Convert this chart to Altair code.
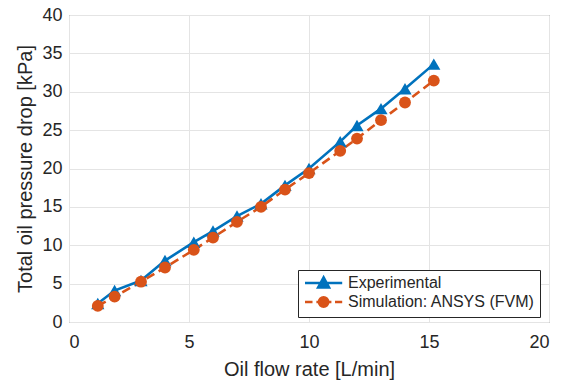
import altair as alt
import pandas as pd

# ---- data ----
flow = [1.2, 1.9, 3.0, 4.0, 5.2, 6.0, 7.0, 8.0, 9.0, 10.0, 11.3, 12.0, 13.0, 14.0, 15.2]
exp_dp = [2.4, 4.1, 5.4, 8.0, 10.4, 11.85, 13.8, 15.4, 17.8, 20.0, 23.5, 25.6, 27.8, 30.4, 33.6]
sim_dp = [2.1, 3.3, 5.25, 7.1, 9.4, 11.0, 13.05, 15.0, 17.25, 19.4, 22.3, 23.9, 26.3, 28.6, 31.45]
series = ["Experimental", "Simulation: ANSYS (FVM)"]
colors = ["#0072BD", "#D95319"]
x_ticks = [0, 5, 10, 15, 20]
y_ticks = [0, 5, 10, 15, 20, 25, 30, 35, 40]

rows = []
for s, vals in zip(series, [exp_dp, sim_dp]):
    for xv, yv in zip(flow, vals):
        rows.append({"flow": xv, "dp": yv, "series": s})
df = pd.DataFrame(rows)

FONT = "Liberation Sans"
TXT = "#262626"

x_enc = alt.X("flow:Q", scale=alt.Scale(domain=[0, 20], nice=False),
              axis=alt.Axis(values=x_ticks, title="Oil flow rate [L/min]",
                            labelPadding=11, titlePadding=8))
y_enc = alt.Y("dp:Q", scale=alt.Scale(domain=[0, 40], nice=False),
              axis=alt.Axis(values=y_ticks, title="Total oil pressure drop [kPa]",
                            labelPadding=7, titlePadding=6))

color_scale = alt.Scale(domain=series, range=colors)

base = alt.Chart(df)
exp_data = base.transform_filter(alt.datum.series == series[0])
sim_data = base.transform_filter(alt.datum.series == series[1])

exp_line = exp_data.mark_line(strokeWidth=2.6, color=colors[0]).encode(x=x_enc, y=y_enc)
sim_line = sim_data.mark_line(strokeWidth=2.6, color=colors[1],
                              strokeDash=[9, 5]).encode(x=x_enc, y=y_enc)

tri = exp_data.mark_point(
    filled=True, size=175, opacity=1, shape="triangle-up", color=colors[0]
).encode(x=x_enc, y=y_enc)

circ = sim_data.mark_point(
    filled=True, size=140, opacity=1, shape="circle", color=colors[1]
).encode(x=x_enc, y=y_enc)

# legend symbols: line (solid / dashed) with a marker in the middle
leg_exp = "M-1,0L5.2,0M2.1,-0.95L3.017,0.75L1.183,0.75Z"
leg_sim = ("M-1,0L0.25,0M0.9,0L3.4,0M4.0,0L5.2,0"
           "M1.317,0A0.783,0.783 0 1,1 2.883,0A0.783,0.783 0 1,1 1.317,0Z")

legend_layer = base.mark_point(filled=True, opacity=0).encode(
    x=x_enc, y=y_enc,
    fill=alt.Fill("series:N", scale=color_scale, legend=alt.Legend(title=None)),
    stroke=alt.Stroke("series:N", scale=color_scale, legend=alt.Legend(title=None)),
    shape=alt.Shape("series:N",
                    scale=alt.Scale(domain=series, range=[leg_exp, leg_sim]),
                    legend=alt.Legend(title=None)),
)

chart = alt.layer(exp_line, sim_line, tri, circ, legend_layer).properties(
    width=480, height=307,
    autosize=alt.AutoSizeParams(type="none"),
    padding={"left": 69, "top": 15, "right": 22, "bottom": 59},
).configure_view(
    stroke="#6b6b6b", strokeWidth=1
).configure_axis(
    domain=False, ticks=False, grid=True, gridColor="#e4e4e4", gridWidth=1,
    labelFont=FONT, labelFontSize=18, labelColor=TXT,
    titleFont=FONT, titleFontSize=20, titleFontWeight="normal", titleColor=TXT,
).configure_legend(
    orient="none", legendX=229, legendY=255,
    fillColor="white", strokeColor=TXT, padding=5,
    symbolSize=144, symbolStrokeWidth=2.5, symbolOpacity=1,
    labelOffset=29, rowPadding=-1, labelFontSize=16, labelLimit=400,
    labelFont=FONT, labelColor=TXT,
)

chart.save("out.html", embed_options={"renderer": "svg", "actions": False})
